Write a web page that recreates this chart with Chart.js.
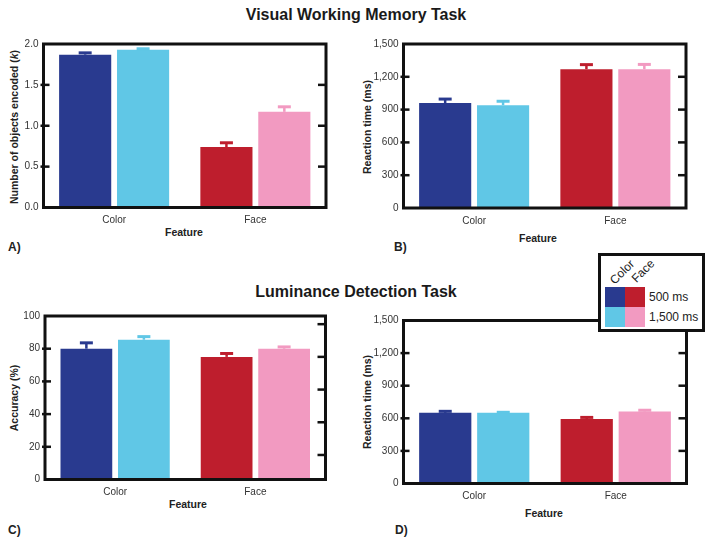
<!DOCTYPE html>
<html><head><meta charset="utf-8">
<script src="https://cdn.jsdelivr.net/npm/chart.js@4/dist/chart.umd.min.js"></script>
<style>
html,body{margin:0;padding:0;background:#fff;}
body{width:714px;height:543px;position:relative;overflow:hidden;font-family:"Liberation Sans",Arial,sans-serif;color:#222;}
canvas{position:absolute;}
.t{position:absolute;white-space:nowrap;transform:translate(-50%,-50%);line-height:1;}
.main{font-weight:bold;font-size:16px;color:#1a1a1a;}
.ax{font-weight:bold;font-size:10.5px;color:#222;}
.yt{transform:translate(-50%,-50%) rotate(-90deg);}
.lab{position:absolute;font-weight:bold;font-size:12px;line-height:1;transform:translateY(-50%);color:#222;}
#legend{position:absolute;left:598px;top:253px;width:107px;height:79px;box-sizing:border-box;border:3px solid #111;background:#fff;z-index:10;}
.sw{position:absolute;width:20px;height:20px;z-index:11;}
.lt{position:absolute;font-size:12px;line-height:1;white-space:nowrap;z-index:11;color:#222;}
</style></head><body>
<div class="t main" style="left:356px;top:15px;">Visual Working Memory Task</div>
<div class="t main" style="left:356px;top:292px;">Luminance Detection Task</div>
<div class="t ax yt" style="left:13.5px;top:126.5px;">Number of objects encoded (<i>k</i>)</div>
<div class="t ax yt" style="left:367px;top:126.5px;">Reaction time (ms)</div>
<div class="t ax yt" style="left:13.5px;top:398px;">Accuracy (%)</div>
<div class="t ax yt" style="left:367px;top:402px;">Reaction time (ms)</div>
<div class="t ax" style="left:184px;top:232px;">Feature</div>
<div class="t ax" style="left:538px;top:238px;">Feature</div>
<div class="t ax" style="left:188px;top:504px;">Feature</div>
<div class="t ax" style="left:544px;top:513px;">Feature</div>
<div class="lab" style="left:8px;top:247px;">A)</div>
<div class="lab" style="left:394px;top:247px;">B)</div>
<div class="lab" style="left:8px;top:530px;">C)</div>
<div class="lab" style="left:395px;top:530px;">D)</div>
<div id="legend"></div>
<script>
// ---- data ----
const categories = ['Color', 'Face'];
const seriesNames = ['500 ms', '1,500 ms'];
const colors500 = ['#293a8f', '#be1e2d'];
const colors1500 = ['#60c7e6', '#f29ac1'];

const vwmK500 = [1.87, 0.74];
const vwmK1500 = [1.93, 1.17];
const vwmKErr500 = [0.04, 0.07];
const vwmKErr1500 = [0.03, 0.08];

const vwmRT500 = [960, 1270];
const vwmRT1500 = [940, 1270];
const vwmRTErr500 = [50, 55];
const vwmRTErr1500 = [50, 57];

const ldAcc500 = [80, 75];
const ldAcc1500 = [85.5, 80];
const ldAccErr500 = [4.5, 3];
const ldAccErr1500 = [2.8, 2];

const ldRT500 = [650, 593];
const ldRT1500 = [650, 662];
const ldRTErr500 = [28, 29];
const ldRTErr1500 = [19, 26];

const kTicks = [0, 0.5, 1, 1.5, 2];
const kTickLabels = ['0.0', '0.5', '1.0', '1.5', '2.0'];
const rtTicks = [0, 300, 600, 900, 1200, 1500];
const rtTickLabels = ['0', '300', '600', '900', '1,200', '1,500'];
const accTicks = [0, 20, 40, 60, 80, 100];
const accTickLabels = ['0', '20', '40', '60', '80', '100'];
const kRightTicks = [0.5, 1, 1.5];
const rtRightTicks = [300, 600, 900, 1200];
const accRightTicks = [15, 35, 55, 75, 95];

Chart.defaults.font.family = '"Liberation Sans", Arial, sans-serif';

const framePlugin = {
  id: 'frame',
  afterDatasetsDraw(chart) {
    const ctx = chart.ctx, ys = chart.scales.y;
    ctx.save();
    chart.data.datasets.forEach((ds, di) => {
      const meta = chart.getDatasetMeta(di);
      meta.data.forEach((el, i) => {
        const col = ds.backgroundColor[i];
        const yTop = ys.getPixelForValue(ds.data[i] + ds.err[i]);
        ctx.strokeStyle = col;
        ctx.lineWidth = 2.5;
        ctx.beginPath(); ctx.moveTo(el.x, el.y); ctx.lineTo(el.x, yTop + 1); ctx.stroke();
        ctx.lineWidth = 3;
        ctx.beginPath(); ctx.moveTo(el.x - 6.5, yTop + 1.5); ctx.lineTo(el.x + 6.5, yTop + 1.5); ctx.stroke();
      });
    });
    ctx.restore();
  },
  afterDraw(chart) {
    const ctx = chart.ctx, a = chart.chartArea, ys = chart.scales.y;
    const p = chart.options.plugins.frame;
    ctx.save();
    ctx.strokeStyle = '#111';
    ctx.lineWidth = 3;
    ctx.strokeRect(a.left, a.top, a.right - a.left, a.bottom - a.top);
    ctx.lineWidth = 2.5;
    p.ticks.slice(1, -1).forEach(v => {
      const y = ys.getPixelForValue(v);
      ctx.beginPath(); ctx.moveTo(a.left - 3, y); ctx.lineTo(a.left + 6, y); ctx.stroke();
    });
    p.rightTicks.forEach(v => {
      const y = ys.getPixelForValue(v);
      ctx.beginPath(); ctx.moveTo(a.right - 8, y); ctx.lineTo(a.right + 1, y); ctx.stroke();
    });
    ctx.restore();
  }
};

function makePanel(p) {
  const cv = document.createElement('canvas');
  cv.width = p.w; cv.height = p.h;
  cv.style.left = p.x + 'px'; cv.style.top = p.y + 'px';
  cv.style.width = p.w + 'px'; cv.style.height = p.h + 'px';
  document.body.appendChild(cv);
  new Chart(cv, {
    type: 'bar',
    data: {
      labels: categories,
      datasets: [
        { label: seriesNames[0], data: p.d500, err: p.e500, backgroundColor: colors500, categoryPercentage: 0.82, barPercentage: 0.9 },
        { label: seriesNames[1], data: p.d1500, err: p.e1500, backgroundColor: colors1500, categoryPercentage: 0.82, barPercentage: 0.9 }
      ]
    },
    options: {
      responsive: false, animation: false, devicePixelRatio: 1,
      layout: { padding: { left: 0, top: p.a.t, right: p.w - p.a.r, bottom: 0 } },
      plugins: {
        legend: { display: false }, tooltip: { enabled: false },
        frame: { ticks: p.ticks, rightTicks: p.rightTicks }
      },
      scales: {
        x: {
          grid: { display: false, drawTicks: false }, border: { display: false },
          ticks: { padding: 7, color: '#333', font: { size: 10 } },
          afterFit: s => { s.height = p.h - p.a.b; }
        },
        y: {
          min: p.ticks[0], max: p.ticks[p.ticks.length - 1],
          grid: { display: false, drawTicks: false }, border: { display: false },
          afterBuildTicks: s => { s.ticks = p.ticks.map(v => ({ value: v })); },
          ticks: { padding: 5, color: '#333', font: { size: 10 }, autoSkip: false,
                   callback: (v, i) => p.labels[i] },
          afterFit: s => { s.width = p.a.l; }
        }
      }
    },
    plugins: [framePlugin]
  });
}

makePanel({ x: 0, y: 30, w: 340, h: 230, a: { l: 43.5, t: 14, r: 326, b: 177.5 },
  d500: vwmK500, d1500: vwmK1500, e500: vwmKErr500, e1500: vwmKErr1500,
  ticks: kTicks, labels: kTickLabels, rightTicks: kRightTicks });
makePanel({ x: 340, y: 30, w: 374, h: 230, a: { l: 63.5, t: 14, r: 346, b: 178 },
  d500: vwmRT500, d1500: vwmRT1500, e500: vwmRTErr500, e1500: vwmRTErr1500,
  ticks: rtTicks, labels: rtTickLabels, rightTicks: rtRightTicks });
makePanel({ x: 0, y: 300, w: 340, h: 243, a: { l: 45, t: 16, r: 325.5, b: 179.5 },
  d500: ldAcc500, d1500: ldAcc1500, e500: ldAccErr500, e1500: ldAccErr1500,
  ticks: accTicks, labels: accTickLabels, rightTicks: accRightTicks });
makePanel({ x: 340, y: 300, w: 374, h: 243, a: { l: 63.5, t: 20.5, r: 346.5, b: 183.5 },
  d500: ldRT500, d1500: ldRT1500, e500: ldRTErr500, e1500: ldRTErr1500,
  ticks: rtTicks, labels: rtTickLabels, rightTicks: rtRightTicks });

// ---- legend ----
(function () {
  const b = document.body;
  function add(cls, css, txt) {
    const d = document.createElement('div');
    d.className = cls; d.style.cssText = css;
    if (txt !== undefined) d.textContent = txt;
    b.appendChild(d);
  }
  const sx = [605, 625], sy = [287, 307];
  const rows = [colors500, colors1500];
  rows.forEach((cols, r) => {
    cols.forEach((c, k) => add('sw', `left:${sx[k]}px;top:${sy[r]}px;background:${c};`));
    add('lt', `left:649px;top:${sy[r] + 10}px;transform:translateY(-50%);`, seriesNames[r]);
  });
  add('lt', 'left:621.5px;top:271.5px;transform:translate(-50%,-50%) rotate(-45deg);', categories[0]);
  add('lt', 'left:643px;top:270.5px;transform:translate(-50%,-50%) rotate(-45deg);', categories[1]);
})();
</script>
</body></html>
